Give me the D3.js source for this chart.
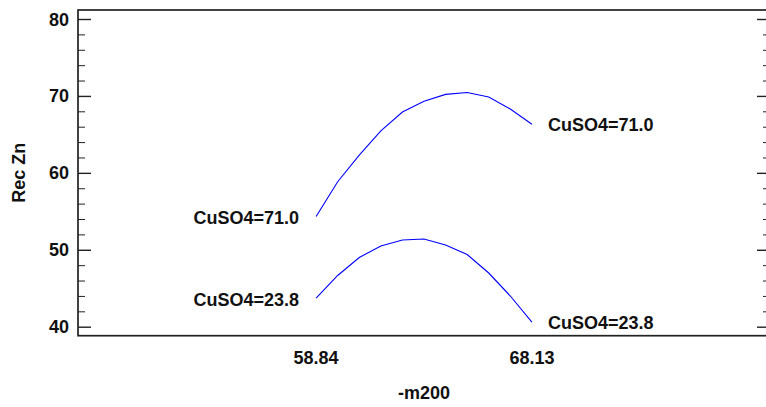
<!DOCTYPE html>
<html>
<head>
<meta charset="utf-8">
<script src="https://cdn.jsdelivr.net/npm/d3@7"></script>
<style>
  html, body { margin: 0; padding: 0; background: #fff; }
  svg { display: block; }
  text { font-family: Arial, "Liberation Sans", Helvetica, sans-serif; font-weight: bold; fill: #111; }
</style>
</head>
<body>
<svg id="chart" width="766" height="407"></svg>
<script>
// ---- data ----
const xValues = [58.84, 59.769, 60.698, 61.627, 62.556, 63.485, 64.414, 65.343, 66.272, 67.201, 68.13];
const cuso4High = [54.33, 58.85, 62.3, 65.45, 67.9, 69.3, 70.2, 70.45, 69.87, 68.3, 66.32];
const cuso4Low  = [43.73, 46.66, 49.0, 50.49, 51.27, 51.4, 50.62, 49.39, 46.98, 43.99, 40.6];
const seriesNames = ["CuSO4=71.0", "CuSO4=23.8"];
const xTickValues = [58.84, 68.13];
const yTickValues = [40, 50, 60, 70, 80];
const yMinorTickValues = [42, 44, 46, 48, 52, 54, 56, 58, 62, 64, 66, 68, 72, 74, 76, 78];
const xTitle = "-m200";
const yTitle = "Rec Zn";

// ---- layout ----
const svg = d3.select("#chart");
const mLeft = 78, mRight = 770, mTop = 10, mBottom = 335.7;
const fs = 18;

const x = d3.scaleLinear().domain([48.59, 78.38]).range([mLeft, mRight]);
const y = d3.scaleLinear().domain([38.83, 81.17]).range([mBottom, mTop]);

// frame
svg.append("rect")
  .attr("x", mLeft).attr("y", mTop)
  .attr("width", mRight - mLeft).attr("height", mBottom - mTop)
  .attr("fill", "none").attr("stroke", "#222").attr("stroke-width", 1.7);

// left axis ticks
const yAxisL = d3.axisRight(y).tickValues(yTickValues).tickSize(13).tickFormat("");
const gL = svg.append("g").attr("transform", `translate(${mLeft},0)`).call(yAxisL);
gL.select(".domain").remove();
gL.selectAll("line").attr("stroke", "#222").attr("stroke-width", 1.4);
const yMinorL = d3.axisRight(y).tickValues(yMinorTickValues).tickSize(7).tickFormat("");
const gLm = svg.append("g").attr("transform", `translate(${mLeft},0)`).call(yMinorL);
gLm.select(".domain").remove();
gLm.selectAll("line").attr("stroke", "#222").attr("stroke-width", 1);

// right axis ticks
const yAxisR = d3.axisLeft(y).tickValues(yTickValues).tickSize(13).tickFormat("");
const gR = svg.append("g").attr("transform", `translate(${mRight},0)`).call(yAxisR);
gR.select(".domain").remove();
gR.selectAll("line").attr("stroke", "#222").attr("stroke-width", 1.4);
const yMinorR = d3.axisLeft(y).tickValues(yMinorTickValues).tickSize(7).tickFormat("");
const gRm = svg.append("g").attr("transform", `translate(${mRight},0)`).call(yMinorR);
gRm.select(".domain").remove();
gRm.selectAll("line").attr("stroke", "#222").attr("stroke-width", 1);

// y tick labels
svg.append("g").selectAll("text").data(yTickValues).join("text")
  .attr("x", mLeft - 9).attr("y", d => y(d) + 6.5)
  .attr("text-anchor", "end").attr("font-size", fs)
  .text(d => d);

// x tick labels
svg.append("g").selectAll("text").data(xTickValues).join("text")
  .attr("x", d => x(d)).attr("y", 363.5)
  .attr("text-anchor", "middle").attr("font-size", fs)
  .text(d => d.toFixed(2));

// titles
svg.append("text").attr("x", (mLeft + mRight) / 2).attr("y", 399)
  .attr("text-anchor", "middle").attr("font-size", fs).text(xTitle);
svg.append("text")
  .attr("transform", `translate(25,${(mTop + mBottom) / 2}) rotate(-90)`)
  .attr("text-anchor", "middle").attr("font-size", fs).text(yTitle);

// curves
const line = d3.line().x((d, i) => x(xValues[i])).y(d => y(d));
[cuso4High, cuso4Low].forEach((s, k) => {
  svg.append("path").datum(s)
    .attr("d", line)
    .attr("fill", "none").attr("stroke", "#0000ff").attr("stroke-width", 1.1);
  const n = s.length - 1;
  svg.append("text")
    .attr("x", x(xValues[0]) - 17).attr("y", y(s[0]) + 8)
    .attr("text-anchor", "end").attr("font-size", fs).text(seriesNames[k]);
  svg.append("text")
    .attr("x", x(xValues[n]) + 16).attr("y", y(s[n]) + 6.5)
    .attr("text-anchor", "start").attr("font-size", fs).text(seriesNames[k]);
});
</script>
</body>
</html>
